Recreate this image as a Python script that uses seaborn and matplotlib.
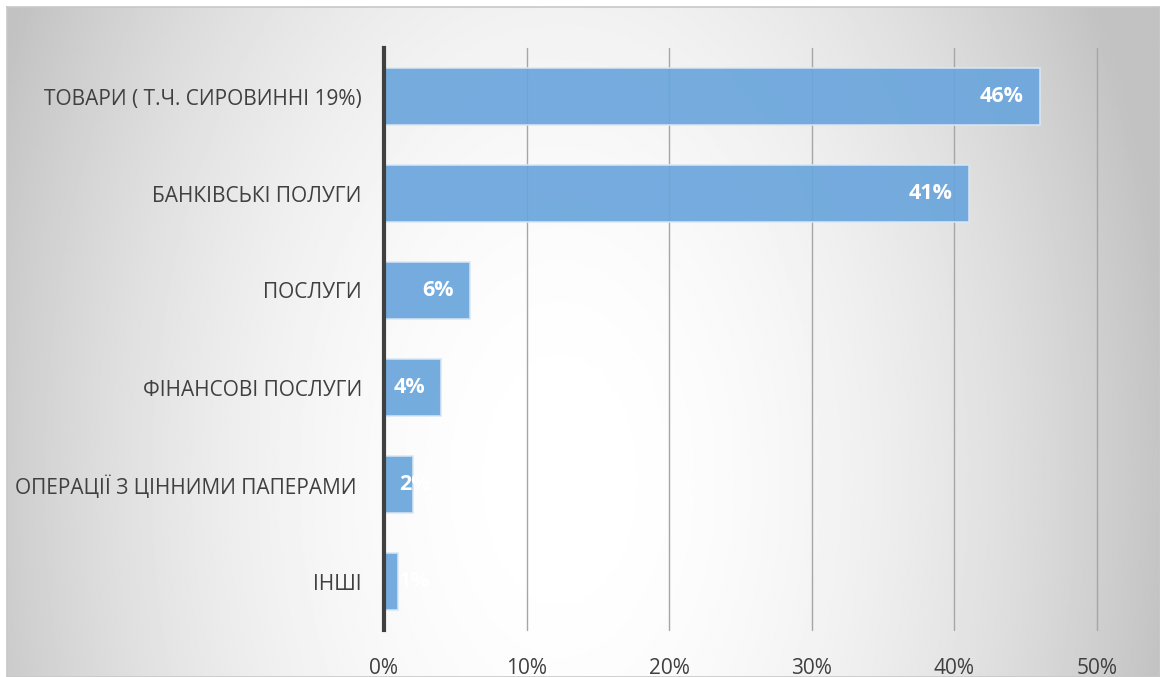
import numpy as np
import pandas as pd
import matplotlib
matplotlib.use("Agg")
import matplotlib.pyplot as plt
import seaborn as sns

categories = [
    "ТОВАРИ ( Т.Ч. СИРОВИННІ 19%)",
    "БАНКІВСЬКІ ПОЛУГИ",
    "ПОСЛУГИ",
    "ФІНАНСОВІ ПОСЛУГИ",
    "ОПЕРАЦІЇ З ЦІННИМИ ПАПЕРАМИ ",
    "ІНШІ",
]
shares = [46, 41, 6, 4, 2, 1]
value_labels = ["46%", "41%", "6%", "4%", "2%", "1%"]
x_ticks = [0, 10, 20, 30, 40, 50]
x_tick_labels = ["0%", "10%", "20%", "30%", "40%", "50%"]

sns.set_theme(style="white")
plt.rcParams["font.family"] = ["Open Sans", "DejaVu Sans"]

W, H = 1160, 677
fig = plt.figure(figsize=(W / 100, H / 100), dpi=100)
fig.patch.set_facecolor("white")

# chart area with a soft radial grey-to-white fill
bg = fig.add_axes([7 / W, 0, 1 - 7 / W, 1 - 7 / H])
gx = np.linspace(7, W, 600)
gy = np.linspace(7, H, 400)
X, Y = np.meshgrid(gx, gy)
d2 = ((X - 560) / 620) ** 2 + ((Y - 480) / 1000) ** 2
shade = np.clip(255 - 62 * d2, 194, 255) / 255.0
bg.imshow(shade, cmap="gray", vmin=0, vmax=1, aspect="auto",
          extent=[0, 1, 0, 1], interpolation="bilinear")
bg.set_xlim(0, 1)
bg.set_ylim(0, 1)
bg.set_xticks([])
bg.set_yticks([])
for s in bg.spines.values():
    s.set_color("#c8c8c8")
    s.set_linewidth(1.2)

ax = fig.add_axes([384 / W, (H - 630) / H, (1097 - 384) / W, 582 / H])
ax.set_facecolor("none")

df = pd.DataFrame({"category": categories, "share": shares})
sns.barplot(data=df, x="share", y="category", orient="h", ax=ax,
            color="#6aa5dc", saturation=1, alpha=0.92, width=0.59,
            edgecolor="#d8e7f5", linewidth=1.2, zorder=3)

ax.set_xlim(0, 50)
ax.set_ylim(5.5, -0.5)
ax.set_xticks(x_ticks)
ax.set_xticklabels(x_tick_labels)
ax.set_xlabel("")
ax.set_ylabel("")
ax.grid(axis="x", color="#a6a6a6", linewidth=1.0, zorder=1)
ax.grid(axis="y", visible=False)
ax.set_axisbelow(True)
for gl in ax.get_xgridlines():
    gl.set_clip_on(False)

for side in ("top", "right", "bottom"):
    ax.spines[side].set_visible(False)
ax.spines["left"].set_color("#404040")
ax.spines["left"].set_linewidth(3)
ax.spines["left"].set_zorder(5)

ax.tick_params(axis="x", length=0, pad=20, labelsize=15, labelcolor="#404040")
ax.tick_params(axis="y", length=0, pad=16, labelsize=15, labelcolor="#404040")

for i, (v, lab) in enumerate(zip(shares, value_labels)):
    if v >= 3:
        ax.annotate(lab, xy=(v, i), xytext=(-16, 0), textcoords="offset pixels",
                    ha="right", va="center", color="white",
                    fontsize=15.5, fontweight="bold", zorder=6)
    else:
        ax.annotate(lab, xy=(0, i), xytext=(15, 0), textcoords="offset pixels",
                    ha="left", va="center", color="white",
                    fontsize=15.5, fontweight="bold", zorder=6)

fig.savefig("out.png", dpi=100)
